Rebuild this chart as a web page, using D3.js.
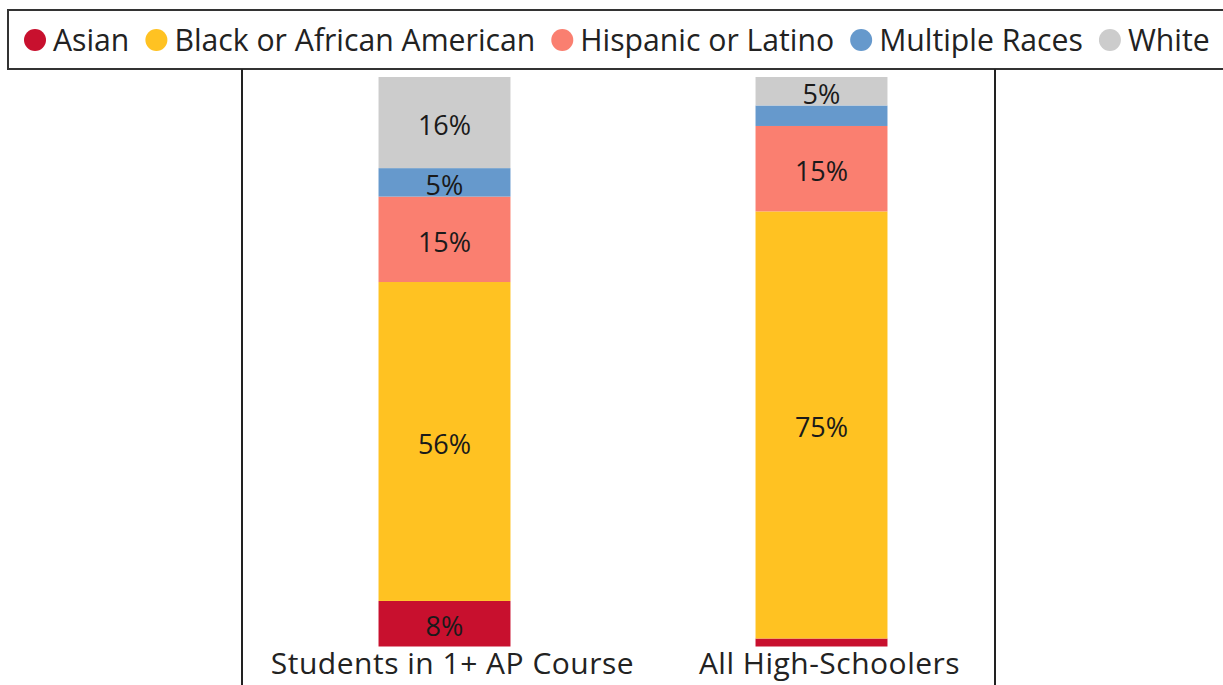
<!DOCTYPE html>
<html>
<head>
<meta charset="utf-8">
<script src="https://cdn.jsdelivr.net/npm/d3@7"></script>
<style>
  html, body { margin: 0; padding: 0; background: #fff; }
  svg { display: block; }
  text { font-family: "Open Sans", "Noto Sans", sans-serif; }
</style>
</head>
<body>
<svg id="chart" width="1223" height="685"></svg>
<script>
const categories = ["Students in 1+ AP Course", "All High-Schoolers"];
const seriesNames = ["Asian", "Black or African American", "Hispanic or Latino", "Multiple Races", "White"];
const asian    = [8, 1.4];
const black    = [56, 75];
const hispanic = [15, 15];
const multiple = [5, 3.6];
const white    = [16, 5];
const colors = ["#C8102E", "#FFC222", "#FA7F70", "#6699CC", "#CCCCCC"];

const seriesValues = [asian, black, hispanic, multiple, white];
const table = categories.map((c, i) => {
  const row = { category: c };
  seriesNames.forEach((s, j) => { row[s] = seriesValues[j][i]; });
  return row;
});

const svg = d3.select("#chart");
const W = 1223, H = 685;

// Legend box
svg.append("rect")
  .attr("x", 8).attr("y", 10).attr("width", 1230).attr("height", 59)
  .attr("fill", "none").attr("stroke", "#333").attr("stroke-width", 2);

// Chart frame
svg.append("line").attr("x1", 242).attr("x2", 242).attr("y1", 69).attr("y2", H + 5)
  .attr("stroke", "#222").attr("stroke-width", 2);
svg.append("line").attr("x1", 995).attr("x2", 995).attr("y1", 69).attr("y2", H + 5)
  .attr("stroke", "#222").attr("stroke-width", 2);

const x = d3.scaleBand().domain(categories).range([256, 1010]).paddingInner(0.65).paddingOuter(0.325);
const y = d3.scaleLinear().domain([0, 100]).range([646.5, 77]);
const color = d3.scaleOrdinal().domain(seriesNames).range(colors);

const stacked = d3.stack().keys(seriesNames)(table);

const groups = svg.append("g").selectAll("g").data(stacked).join("g")
  .attr("fill", d => color(d.key));

groups.selectAll("rect").data(d => d.map(v => ({ key: d.key, v }))).join("rect")
  .attr("x", d => x(d.v.data.category))
  .attr("width", x.bandwidth())
  .attr("y", d => y(d.v[1]))
  .attr("height", d => y(d.v[0]) - y(d.v[1]));

// Data labels
const labelData = [];
stacked.forEach(s => s.forEach(v => {
  const val = v[1] - v[0];
  if (val >= 4.5) labelData.push({ v, val });
}));
svg.append("g").selectAll("text").data(labelData).join("text")
  .attr("x", d => x(d.v.data.category) + x.bandwidth() / 2)
  .attr("y", d => (y(d.v[0]) + y(d.v[1])) / 2 + 12.5)
  .attr("text-anchor", "middle")
  .attr("font-size", 27)
  .attr("fill", "#1a1a1a")
  .text(d => d3.format(".0f")(d.val) + "%");

// X axis labels
const xAxis = d3.axisBottom(x).tickSize(0).tickPadding(0);
const gx = svg.append("g").attr("transform", "translate(8,650)").call(xAxis);
gx.select(".domain").remove();
gx.selectAll("text")
  .attr("font-size", 30)
  .attr("letter-spacing", "0.5px")
  .attr("font-family", "\"Open Sans\", sans-serif")
  .attr("fill", "#222")
  .attr("dy", "0.8em");

// Legend
const legend = svg.append("g");
let cx = 24;
seriesNames.forEach((name) => {
  const item = legend.append("g");
  item.append("circle").attr("cx", cx + 11).attr("cy", 40).attr("r", 11).attr("fill", color(name));
  const t = item.append("text").attr("x", cx + 29).attr("y", 50.5)
    .attr("font-size", 30.2).attr("fill", "#222").text(name);
  const w = t.node().getComputedTextLength();
  cx = cx + 29 + w + 16;
});
</script>
</body>
</html>
